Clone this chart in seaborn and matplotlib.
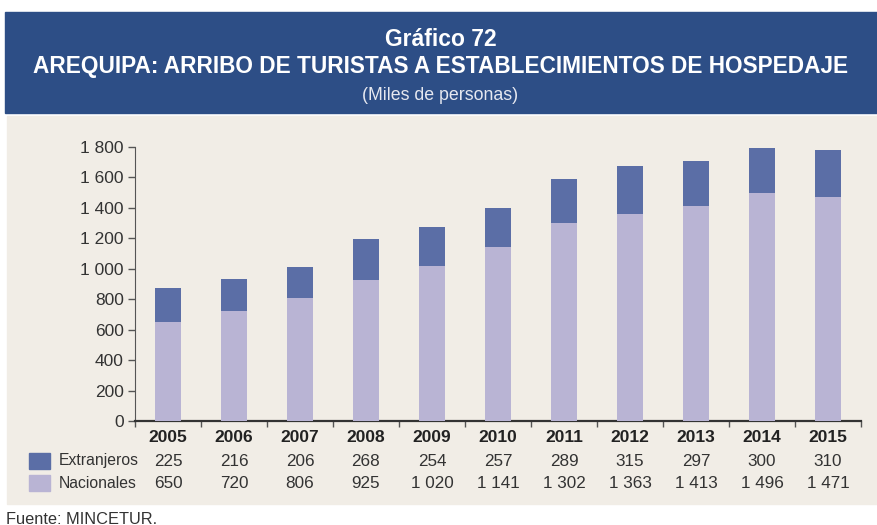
import matplotlib
matplotlib.use("Agg")
import matplotlib.pyplot as plt
import matplotlib.transforms as mtransforms
from matplotlib.patches import Rectangle
from matplotlib.ticker import FuncFormatter, FixedLocator
import numpy as np
import pandas as pd
import seaborn as sns

# --- Datos (miles de personas) ---
years = ["2005", "2006", "2007", "2008", "2009", "2010", "2011", "2012", "2013", "2014", "2015"]
extranjeros = [225, 216, 206, 268, 254, 257, 289, 315, 297, 300, 310]
nacionales = [650, 720, 806, 925, 1020, 1141, 1302, 1363, 1413, 1496, 1471]

COL_EXT = "#5b6ea6"
COL_NAC = "#b9b4d4"
COL_HEAD = "#2d4e86"
COL_BG = "#f1ede6"

sns.set_style("white")
plt.rcParams["font.family"] = ["Liberation Sans", "DejaVu Sans"]

def fmt_miles(v):
    return f"{int(v):,}".replace(",", " ")

df = pd.DataFrame({"anio": years, "Extranjeros": extranjeros, "Nacionales": nacionales})
df["Total"] = df["Extranjeros"] + df["Nacionales"]

fig = plt.figure(figsize=(8.77, 5.25), dpi=100)
W, H = 877, 525

# encabezado y panel de fondo
fig.patches.append(Rectangle((5 / W, 1 - 113 / H), 872 / W, 101 / H,
                             transform=fig.transFigure, color=COL_HEAD, zorder=-2))
fig.patches.append(Rectangle((7 / W, 1 - 504 / H), 870 / W, 388 / H,
                             transform=fig.transFigure, color=COL_BG, zorder=-2))

fig.text(0.5 + 2 / W, 1 - 40 / H, "Gráfico 72", ha="center", va="center",
         color="white", fontsize=16.5, fontweight="bold")
fig.text(0.5 + 2 / W, 1 - 67 / H, "AREQUIPA: ARRIBO DE TURISTAS A ESTABLECIMIENTOS DE HOSPEDAJE",
         ha="center", va="center", color="white", fontsize=16.3, fontweight="bold")
fig.text(0.5 + 2 / W, 1 - 95 / H, "(Miles de personas)", ha="center", va="center",
         color="#e6e8f0", fontsize=12.8)
fig.text(6 / W, 1 - 519 / H, "Fuente: MINCETUR.", ha="left", va="center",
         color="#333333", fontsize=11.8)

ax = fig.add_axes([135 / W, 1 - 421 / H, 726 / W, 274 / H])
ax.set_facecolor("none")
ax.set_zorder(1)

sns.barplot(data=df, x="anio", y="Total", color=COL_EXT, width=0.4,
            saturation=1, linewidth=0, ax=ax, zorder=2)
sns.barplot(data=df, x="anio", y="Nacionales", color=COL_NAC, width=0.4,
            saturation=1, linewidth=0, ax=ax, zorder=3)

ax.set_xlim(-0.5, 10.5)
ax.set_ylim(0, 1800)
ax.set_yticks(np.arange(0, 1801, 200))
ax.yaxis.set_major_formatter(FuncFormatter(lambda v, p: fmt_miles(v)))
ax.set_xlabel("")
ax.set_ylabel("")
ax.xaxis.set_major_locator(FixedLocator(np.arange(-0.5, 11, 1)))
ax.set_xticklabels([])
ax.tick_params(axis="y", direction="out", length=5, width=1, color="#555555",
               labelsize=12.5, labelcolor="#333333", pad=3, left=True)
ax.tick_params(axis="x", direction="out", length=4, width=1, color="#555555", bottom=True)
for s in ["top", "right"]:
    ax.spines[s].set_visible(False)
ax.spines["left"].set_color("#555555")
ax.spines["bottom"].set_color("#333333")
ax.spines["bottom"].set_linewidth(1.6)

# tabla de datos bajo el gráfico
trans = mtransforms.blended_transform_factory(ax.transData, fig.transFigure)
y_year, y_ext, y_nac = 1 - 438 / H, 1 - 461 / H, 1 - 483 / H
for i, yr in enumerate(years):
    ax.text(i, y_year, yr, transform=trans, ha="center", va="center",
            fontsize=12.5, fontweight="bold", color="#222222")
    ax.text(i, y_ext, fmt_miles(extranjeros[i]), transform=trans, ha="center",
            va="center", fontsize=12.3, color="#333333")
    ax.text(i, y_nac, fmt_miles(nacionales[i]), transform=trans, ha="center",
            va="center", fontsize=12.3, color="#333333")

for yy, col, lab in [(y_ext, COL_EXT, "Extranjeros"), (y_nac, COL_NAC, "Nacionales")]:
    fig.patches.append(Rectangle((29 / W, yy - 8 / H), 21 / W, 16 / H,
                                 transform=fig.transFigure, color=col, zorder=1))
    fig.text(59 / W, yy, lab, ha="left", va="center", fontsize=11.3, color="#333333")

fig.savefig("out.png", dpi=100)
